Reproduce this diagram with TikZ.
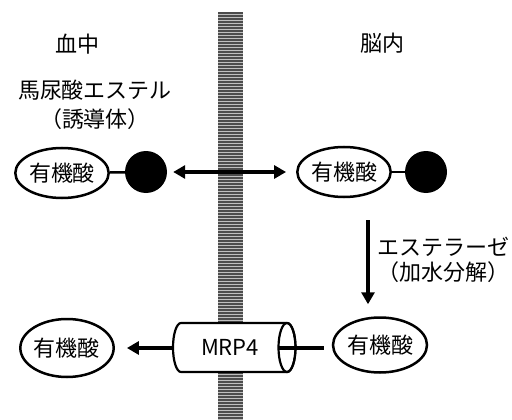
\documentclass[tikz,border=0pt]{standalone}
\usepackage{fontspec}
\setmainfont{Noto Sans CJK JP}
\usetikzlibrary{arrows.meta,shapes.geometric}
\tikzset{
  org/.style={ellipse, draw, line width=2.5pt, fill=white, inner sep=0pt, font=\fontsize{22}{24}\selectfont},
  ball/.style={circle, fill=black, minimum size=42pt, inner sep=0pt},
  lbl/.style={font=\fontsize{22}{26}\selectfont, inner sep=0pt, align=center},
  arr/.style={line width=3.2pt, -{Triangle[length=12pt,width=13pt]}},
  darr/.style={line width=3.2pt, {Triangle[length=12pt,width=13pt]}-{Triangle[length=12pt,width=13pt]}},
  bond/.style={line width=2.5pt},
}
\begin{document}
\begin{tikzpicture}[x=1pt,y=-1pt]
\useasboundingbox (0,0) rectangle (512,420);
% barrier
\fill[black!25] (218,12) rectangle (243,420);
\foreach \k in {0,...,135} {
  \fill[black!70] (218,12+3*\k) rectangle (243,14+3*\k);
}
% labels
\node[lbl] (blood) at (78,44) {血中};
\node[lbl] (brain) at (382,43) {脳内};
\node[lbl] (ester) at (95,90) {馬尿酸エステル};
\node[lbl] (deriv) at (95,119) {（誘導体）};
\node[lbl] (esterase) at (443,247) {エステラーゼ};
\node[lbl] (hydro) at (443,272) {（加水分解）};
% top row
\node[org, minimum width=91pt, minimum height=50pt] (oa1) at (62,173) {有機酸};
\node[ball] (b1) at (146,172) {};
\draw[bond] (oa1) -- (b1);
\node[org, minimum width=92pt, minimum height=50pt] (oa2) at (344,172) {有機酸};
\node[ball] (b2) at (426,172) {};
\draw[bond] (oa2) -- (b2);
\draw[darr] ([xshift=6pt]b1.east) -- ([xshift=-10pt]oa2.west);
% bottom row
\node[org, minimum width=91pt, minimum height=58pt] (oa3) at (67,348) {有機酸};
\node[org, minimum width=94pt, minimum height=55pt] (oa4) at (380,345) {有機酸};
\coordinate (vtop) at (368,220);
\draw[arr] (vtop) -- ([yshift=12pt]vtop |- oa4.north);
% cylinder
\filldraw[fill=white, line width=2.2pt] (181,323) -- (287,323) arc[start angle=90, end angle=-90, x radius=8.5pt, y radius=24.5pt] -- (181,372) arc[start angle=270, end angle=90, x radius=8pt, y radius=24.5pt] -- cycle;
\draw[line width=2.2pt] (287,347.5) ellipse[x radius=8.5pt, y radius=24.5pt];
\node[font=\fontsize{22}{24}\selectfont] (mrp) at (230,347) {MRP4};
\coordinate (cylL) at (173,348);
\coordinate (cylR) at (279,348);
\draw[arr] (cylL) -- ([xshift=12pt]oa3.east |- cylL);
\draw[line width=3.2pt] (cylR) -- ([xshift=-8pt]oa4.west |- cylR);
\end{tikzpicture}
\end{document}
